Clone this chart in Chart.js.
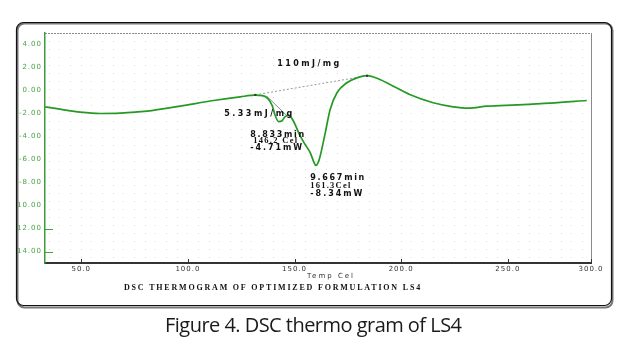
<!DOCTYPE html>
<html>
<head>
<meta charset="utf-8">
<script src="https://cdn.jsdelivr.net/npm/chart.js@4.4.1/dist/chart.umd.min.js"></script>
<style>
  html, body { margin: 0; padding: 0; background: #fff; }
  #wrap { position: relative; width: 625px; height: 347px; }
  canvas { display: block; }
</style>
</head>
<body>
<div id="wrap"><canvas id="c" width="625" height="347"></canvas></div>
<script>
// ---- data ----
const temps = [33.1, 40, 49.5, 58.9, 68.3, 80.8, 96.4, 112, 124.5, 131.6,
  135, 137.5, 139.5, 141, 142.5, 144, 145.5, 147, 149, 152.7,
  155, 157.4, 159, 160, 161, 162, 164.4, 166.7, 169.9, 174.5,
  179.2, 184, 190, 195, 204, 215, 224.4, 231.6, 240.2, 254.3,
  269.9, 287];
const heatFlow = [-1.42, -1.62, -1.88, -2.0, -1.97, -1.8, -1.36, -0.87, -0.55, -0.41,
  -0.45, -0.7, -1.3, -2.2, -2.7, -2.65, -2.3, -2.17, -2.5, -3.97,
  -4.7, -5.42, -6.2, -6.52, -6.3, -5.71, -3.68, -1.65, -0.2, 0.67,
  1.1, 1.3, 0.96, 0.5, -0.35, -1.07, -1.42, -1.54, -1.36, -1.25,
  -1.1, -0.87];
const baseline1T = [131.6, 184];
const baseline1V = [-0.38, 1.28];
const baseline2T = [137, 146.5];
const baseline2V = [-0.5, -2.2];

const xTickValues = [50, 100, 150, 200, 250, 289];
const xTickLabels = ['50.0', '100.0', '150.0', '200.0', '250.0', '300.0'];
const yTickValues = [4, 2, 0, -2, -4, -6, -8, -10, -12, -14];
const yTickLabels = ['4.00', '2.00', '0.00', '-2.00', '-4.00', '-6.00', '-8.00', '10.00', '12.00', '14.00'];

const xTitle = 'Temp Cel';
const chartTitle = 'DSC THERMOGRAM OF OPTIMIZED FORMULATION LS4';
const caption = 'Figure 4. DSC thermo gram of LS4';
const annotationTexts = ['110mJ/mg', '5.33mJ/mg', '8.833min', '146.2 Cel', '-4.71mW', '9.667min', '161.3Cel', '-8.34mW'];

// ---- helpers ----
const toPts = (xs, ys) => xs.map((x, i) => ({ x: x, y: ys[i] }));

function fitText(ctx, text, x, y, w, align) {
  ctx.letterSpacing = '0px';
  const m = ctx.measureText(text).width;
  const sp = text.length > 1 ? (w - m) / (text.length - 1) : 0;
  ctx.letterSpacing = sp.toFixed(2) + 'px';
  ctx.textAlign = 'left';
  let left = x;
  if (align === 'center') left = x - w / 2;
  ctx.fillText(text, left, y);
  ctx.letterSpacing = '0px';
}

// annotation placement (data-anchored, left edge / middle)
const SANS = 'bold 8px "DejaVu Sans"';
const SERIF = 'bold 8.5px "Liberation Serif"';
const annotLayout = [
  { t: 141.9, v: 2.35, w: 62, font: SANS },
  { t: 117.0, v: -2.0, w: 68, font: SANS },
  { t: 129.2, v: -3.83, w: 54, font: SANS },
  { t: 130.6, v: -4.35, w: 44, font: SERIF },
  { t: 129.2, v: -4.96, w: 52, font: SANS },
  { t: 157.4, v: -7.57, w: 54, font: SANS },
  { t: 157.4, v: -8.26, w: 40, font: SERIF },
  { t: 157.4, v: -8.96, w: 52, font: SANS }
];

const decor = {
  id: 'decor',
  beforeDraw(chart) {
    const ctx = chart.ctx;
    ctx.save();
    ctx.fillStyle = '#fff';
    ctx.fillRect(0, 0, chart.width, chart.height);
    // outer rounded frame with shadow
    ctx.strokeStyle = '#777';
    ctx.lineWidth = 2;
    ctx.beginPath();
    ctx.roundRect(17.5, 23.5, 595, 284, 7);
    ctx.stroke();
    ctx.strokeStyle = '#111';
    ctx.lineWidth = 1.2;
    ctx.beginPath();
    ctx.roundRect(16.5, 22.5, 595, 283, 7);
    ctx.stroke();
    ctx.restore();
    ctx.letterSpacing = '1px';
  },
  afterDraw(chart) {
    const ctx = chart.ctx;
    const a = chart.chartArea;
    const xs = chart.scales.x, ys = chart.scales.y;
    ctx.save();
    ctx.letterSpacing = '0px';
    // top and right borders of plot
    ctx.strokeStyle = '#8a8a8a';
    ctx.lineWidth = 1;
    ctx.setLineDash([2, 1]);
    ctx.beginPath();
    ctx.moveTo(a.left, a.top + 0.5);
    ctx.lineTo(a.right, a.top + 0.5);
    ctx.stroke();
    ctx.setLineDash([]);
    ctx.beginPath();
    ctx.moveTo(a.right + 0.5, a.top);
    ctx.lineTo(a.right + 0.5, a.bottom);
    ctx.stroke();
    // inward x ticks
    ctx.strokeStyle = '#333';
    ctx.lineWidth = 1;
    xs.ticks.forEach(t => {
      const px = Math.round(xs.getPixelForValue(t.value)) + 0.5;
      ctx.beginPath();
      ctx.moveTo(px, a.bottom);
      ctx.lineTo(px, a.bottom - 4);
      ctx.stroke();
    });
    // inward y ticks (visible only at the lowest values)
    ctx.strokeStyle = '#44a044';
    ys.ticks.forEach(t => {
      if (t.value <= -12) {
        const py = Math.round(ys.getPixelForValue(t.value)) + 0.5;
        ctx.beginPath();
        ctx.moveTo(a.left, py);
        ctx.lineTo(a.left + 8, py);
        ctx.stroke();
      }
    });
    // small markers at baseline ends
    ctx.fillStyle = '#333';
    [[baseline1T[0], baseline1V[0]], [baseline1T[1], baseline1V[1]]].forEach(p => {
      const px = xs.getPixelForValue(p[0]), py = ys.getPixelForValue(p[1]);
      ctx.fillRect(px - 1, py - 1, 2, 2);
    });
    // annotations
    ctx.fillStyle = '#111';
    ctx.textBaseline = 'middle';
    annotationTexts.forEach((txt, i) => {
      const L = annotLayout[i];
      ctx.font = L.font;
      fitText(ctx, txt, xs.getPixelForValue(L.t), ys.getPixelForValue(L.v), L.w, 'left');
    });
    // axis title
    ctx.fillStyle = '#333';
    ctx.font = '7px "DejaVu Sans"';
    fitText(ctx, xTitle, 330, 276, 46, 'center');
    // chart title
    ctx.fillStyle = '#111';
    ctx.font = 'bold 8px "Liberation Serif"';
    fitText(ctx, chartTitle, 272, 288, 296, 'center');
    // caption
    ctx.fillStyle = '#1a1a1a';
    ctx.textBaseline = 'alphabetic';
    ctx.font = '20px "Open Sans"';
    fitText(ctx, caption, 313.5, 332, 297, 'center');
    ctx.restore();
  }
};

const chart = new Chart(document.getElementById('c'), {
  type: 'line',
  data: {
    datasets: [
      {
        data: toPts(temps, heatFlow),
        borderColor: '#249a24',
        borderWidth: 1.7,
        pointRadius: 0,
        cubicInterpolationMode: 'monotone',
        fill: false
      },
      {
        data: toPts(baseline1T, baseline1V),
        borderColor: '#9a9a9a',
        borderWidth: 1,
        borderDash: [2, 2],
        pointRadius: 0,
        fill: false
      },
      {
        data: toPts(baseline2T, baseline2V),
        borderColor: '#8a8a8a',
        borderWidth: 1,
        pointRadius: 0,
        fill: false
      }
    ]
  },
  options: {
    responsive: false,
    animation: false,
    events: [],
    layout: { padding: { left: 0, top: 33, right: 34, bottom: 64 } },
    plugins: { legend: { display: false }, tooltip: { enabled: false }, title: { display: false } },
    scales: {
      xg: {
        type: 'linear', position: 'bottom', min: 33, max: 289,
        afterBuildTicks(s) {
          const t = [];
          for (let v = 35; v < 289; v += 5) t.push({ value: v });
          s.ticks = t;
        },
        afterFit(s) { s.height = 0; },
        ticks: { display: false },
        grid: {
          drawTicks: false,
          lineWidth: 1,
          color: (c) => (c.index % 3 === 0 ? 'rgba(230,150,230,0.55)' : (c.index % 3 === 1 ? 'rgba(150,225,150,0.55)' : 'rgba(180,180,180,0.45)'))
        },
        border: { display: false, dash: [1, 7] }
      },
      x: {
        type: 'linear', position: 'bottom', min: 33, max: 289,
        afterBuildTicks(s) { s.ticks = xTickValues.map(v => ({ value: v })); },
        afterFit(s) { s.height = 20; },
        ticks: {
          autoSkip: false, maxRotation: 0, padding: 2,
          color: '#333',
          font: { family: 'DejaVu Sans', size: 7 },
          callback: (v, i) => xTickLabels[i]
        },
        grid: { drawOnChartArea: false, drawTicks: false },
        border: { color: '#333', width: 2 }
      },
      y: {
        type: 'linear', position: 'left', min: -15, max: 5,
        afterBuildTicks(s) { s.ticks = yTickValues.map(v => ({ value: v })); },
        afterFit(s) { s.width = 45; },
        ticks: {
          autoSkip: false, padding: 3,
          color: '#47a347',
          font: { family: 'DejaVu Sans', size: 7 },
          callback: (v, i) => yTickLabels[i]
        },
        grid: { drawOnChartArea: false, drawTicks: false },
        border: { color: '#3c9c3c', width: 1.5 }
      }
    }
  },
  plugins: [decor]
});
</script>
</body>
</html>
